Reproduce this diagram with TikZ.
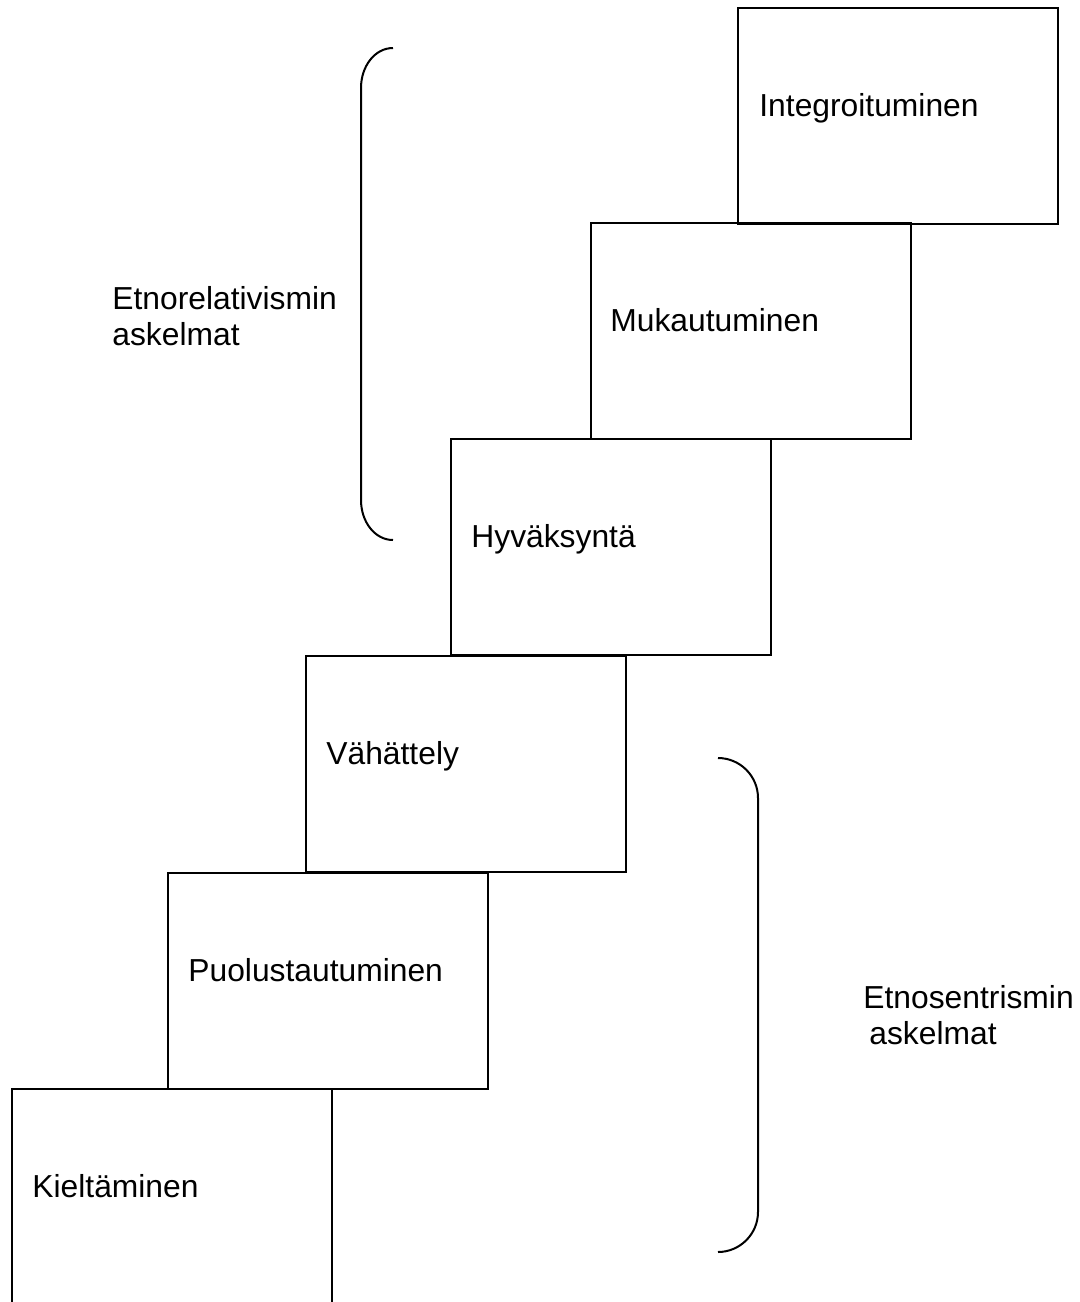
\documentclass[tikz,border=0pt]{standalone}
\usepackage{fontspec}
\setmainfont{Liberation Sans}
\usetikzlibrary{positioning}

\begin{document}
\begin{tikzpicture}[
  x=0.5pt, y=-0.5pt,
  font=\fontsize{15.9}{17.8}\selectfont,
  stepbox/.style={draw, line width=1pt, minimum width=160pt, minimum height=108pt,
                  inner sep=0pt, anchor=north west},
  steptext/.style={anchor=base west, inner sep=0pt},
  sidetext/.style={anchor=base west, inner sep=0pt, align=left},
  brace/.style={line width=1pt},
]
\clip (0,0) rectangle (1080,1302);

% ---- steps, bottom to top ----
\node[stepbox] (kie) at (11,1088) {};
\node[stepbox] (puo) at (167,872) {};
\node[stepbox] (vah) at (305,655) {};
\node[stepbox] (hyv) at (450,438) {};
\node[stepbox] (muk) at (590,222) {};
\node[stepbox] (int) at (737,7) {};

\node[steptext] (kietxt) at ([shift={(21,109)}]kie.north west) {Kieltäminen};
\node[steptext] (puotxt) at ([shift={(21,109)}]puo.north west) {Puolustautuminen};
\node[steptext] (vahtxt) at ([shift={(21,109)}]vah.north west) {Vähättely};
\node[steptext] (hyvtxt) at ([shift={(21,109)}]hyv.north west) {Hyväksyntä};
\node[steptext] (muktxt) at ([shift={(20,109)}]muk.north west) {Mukautuminen};
\node[steptext] (inttxt) at ([shift={(22,109)}]int.north west) {Integroituminen};

% ---- braces ----
\draw[brace] (393,48) .. controls (375,48) and (361,66) .. (361,88) -- (361,500)
  .. controls (361,522) and (375,540) .. (393,540);
\draw[brace] (718,758) .. controls (740,758) and (758,776) .. (758,798) -- (758,1212)
  .. controls (758,1234) and (740,1252) .. (718,1252);

% base = last line
\node[sidetext] (relat) at (112,345) {Etnorelativismin\\askelmat};
\node[sidetext] (sentr) at (863,1044) {Etnosentrismin\\\hspace*{3pt}askelmat};
\end{tikzpicture}
\end{document}
